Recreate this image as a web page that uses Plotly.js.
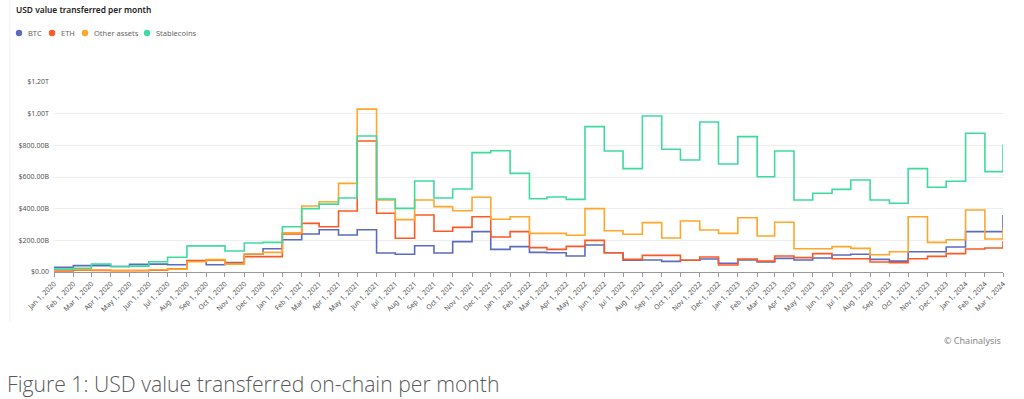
<!DOCTYPE html>
<html>
<head>
<meta charset="utf-8">
<script src="https://cdn.plot.ly/plotly-3.0.1.min.js"></script>
<style>
html,body{margin:0;padding:0;background:#fff;}
#chart{width:1024px;height:399px;}
</style>
</head>
<body>
<div id="chart"></div>
<script>
const months = [
"2020-01-01","2020-02-01","2020-03-01","2020-04-01","2020-05-01","2020-06-01","2020-07-01","2020-08-01","2020-09-01","2020-10-01","2020-11-01","2020-12-01",
"2021-01-01","2021-02-01","2021-03-01","2021-04-01","2021-05-01","2021-06-01","2021-07-01","2021-08-01","2021-09-01","2021-10-01","2021-11-01","2021-12-01",
"2022-01-01","2022-02-01","2022-03-01","2022-04-01","2022-05-01","2022-06-01","2022-07-01","2022-08-01","2022-09-01","2022-10-01","2022-11-01","2022-12-01",
"2023-01-01","2023-02-01","2023-03-01","2023-04-01","2023-05-01","2023-06-01","2023-07-01","2023-08-01","2023-09-01","2023-10-01","2023-11-01","2023-12-01",
"2024-01-01","2024-02-01","2024-03-01"];

// values in billions USD
const btc = [29,40,40,35,48,50,46,72,46,59,112,147,
  204,240,267,234,267,120,112,166,120,192,255,143,
  160,124,122,101,171,122,74,76,67,74,82,55,
  76,63,86,76,88,107,112,80,69,128,128,158,
  255,255,360];
const eth = [6,12,10,8,8,12,21,70,74,55,97,97,
  240,307,286,385,827,371,213,360,257,282,349,221,
  255,154,143,162,200,122,80,105,105,74,95,44,
  82,69,101,91,116,84,84,63,59,84,99,116,
  145,152,195];
const other = [14,14,13,10,11,14,18,65,78,50,114,124,
  248,417,444,560,1029,455,331,455,413,387,472,333,
  349,244,244,232,400,261,238,312,215,322,265,244,
  343,227,314,147,147,160,149,109,128,349,187,204,
  392,208,280];
const stable = [18,24,50,35,37,65,93,165,165,133,183,187,
  286,400,429,467,859,461,402,575,467,524,754,766,
  623,463,474,459,918,764,653,985,775,707,947,682,
  855,602,764,455,497,522,581,455,434,653,535,573,
  876,634,806];

const seriesNames = ["BTC","ETH","Other assets","Stablecoins"];
const seriesColors = ["#5b6cbf","#fb5a24","#ffa62b","#3ddc9e"];
const seriesData = [btc, eth, other, stable];

const yTickVals = [0,200e9,400e9,600e9,800e9,1000e9,1200e9];
const yTickText = ["$0.00","$200.00B","$400.00B","$600.00B","$800.00B","$1.00T","$1.20T"];

const traces = seriesData.map((d,i)=>({
  x: months, y: d.map(v=>v*1e9), type:"scatter", mode:"lines",
  line:{shape:"hv", color:seriesColors[i], width:1.6},
  name: seriesNames[i], showlegend:false
}));

// plot area geometry (pixels) for converting legend/caption placement to paper coords
const PL = 54, PW = 949, PB = 272, PH = 190;
const px = v => (v-PL)/PW;
const py = v => (PB-v)/PH;

// custom legend: marker + label
const legendMarkerX = [19, 52, 85, 147];
const legendY = 33;
const shapes = [];
const annotations = [];
seriesNames.forEach((n,i)=>{
  const cx = legendMarkerX[i];
  shapes.push({type:"circle", xref:"paper", yref:"paper",
    x0:px(cx-3.2), x1:px(cx+3.2), y0:py(legendY+3.2), y1:py(legendY-3.2),
    fillcolor:seriesColors[i], line:{width:0}});
  annotations.push({text:n, xref:"paper", yref:"paper", x:px(cx+7), xanchor:"left",
    y:py(legendY), yanchor:"middle", showarrow:false,
    font:{family:"Noto Sans, sans-serif", size:7.5, color:"#666"}});
});
shapes.push({type:"line", xref:"paper", yref:"paper", x0:px(10), x1:px(10),
  y0:py(322), y1:py(0), line:{color:"#f2f2f2", width:1}});

annotations.push({text:"© Chainalysis", xref:"paper", yref:"paper", x:1, xanchor:"right",
  y:py(340), yanchor:"middle", showarrow:false,
  font:{family:"Noto Sans, sans-serif", size:9, color:"#888"}});
annotations.push({text:"Figure 1: USD value transferred on-chain per month", xref:"paper", yref:"paper",
  x:px(5), xanchor:"left", y:py(383), yanchor:"middle", showarrow:false,
  font:{family:"Open Sans, sans-serif", size:21.2, color:"#5a5a5a", weight:300}});

const layout = {
  width:1024, height:399,
  paper_bgcolor:"#ffffff", plot_bgcolor:"#ffffff",
  margin:{l:PL, r:1024-PL-PW, t:PB-PH, b:399-PB},
  font:{family:"Noto Sans, sans-serif", color:"#555", size:8},
  title:{text:"USD value transferred per month", x:16/1024, xref:"container", xanchor:"left",
         y:1-10/399, yref:"container", yanchor:"middle",
         font:{family:"Noto Sans, sans-serif", size:8.4, color:"#222", weight:600}},
  showlegend:false,
  xaxis:{
    type:"date", range:["2020-01-01","2024-03-01"],
    tickformat:"%b %-d, %Y", dtick:"M1", tick0:"2020-01-01",
    tickangle:-45, tickfont:{size:7, color:"#555"},
    showgrid:false, showline:true, linecolor:"#999", linewidth:1,
    ticks:"outside", ticklen:4, tickcolor:"#999", zeroline:false
  },
  yaxis:{
    range:[0,1.2e12], tickvals:yTickVals, ticktext:yTickText,
    tickfont:{size:7, color:"#555"},
    showgrid:true, gridcolor:"#eeeeee", gridwidth:1,
    zeroline:false, showline:false, ticks:"", ticklabelstandoff:4
  },
  annotations: annotations,
  shapes: shapes
};

Plotly.newPlot("chart", traces, layout, {displayModeBar:false, staticPlot:true});
</script>
</body>
</html>
